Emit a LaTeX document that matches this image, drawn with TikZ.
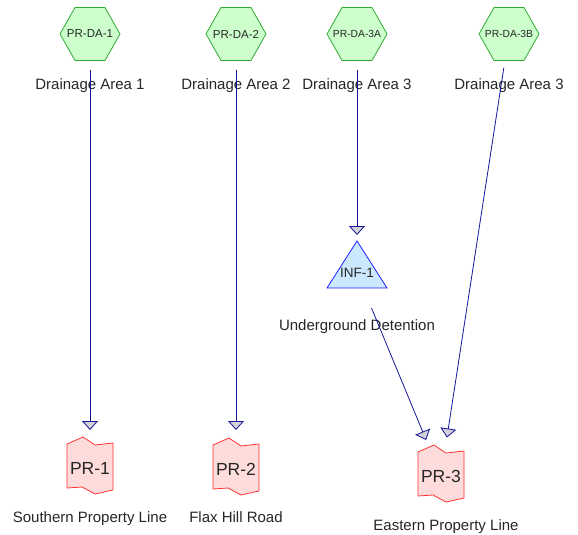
\documentclass[tikz,border=0pt]{standalone}
\usepackage{fontspec}
\setmainfont{Liberation Sans}
\usetikzlibrary{arrows.meta}
\definecolor{hexfill}{RGB}{204,255,204}
\definecolor{hexdraw}{RGB}{50,170,50}
\definecolor{trifill}{RGB}{204,232,255}
\definecolor{tridraw}{RGB}{30,30,255}
\definecolor{prfill}{RGB}{255,220,220}
\definecolor{prdraw}{RGB}{255,50,50}
\definecolor{linkcol}{RGB}{20,20,150}
\definecolor{tipfill}{RGB}{210,210,215}
\tikzset{
  hexshape/.style={draw=hexdraw, fill=hexfill, line width=0.8pt, line join=miter},
  hextext/.style={inner sep=0pt, text=black!85},
  lbl/.style={anchor=base, inner sep=0pt, font=\fontsize{15}{18}\selectfont, text=black!85},
  prtext/.style={inner sep=0pt, font=\fontsize{17.5}{20}\selectfont, text=black!85},
  prshape/.style={draw=prdraw, fill=prfill, line width=0.8pt, line join=miter},
  tri/.style={draw=tridraw, fill=trifill, line width=0.8pt, line join=miter},
  link/.style={draw=linkcol, line width=0.8pt,
    -{Triangle[length=9pt,width=16pt,fill=tipfill]}},
}
\newcommand{\hexpath}[1]{%
  \draw[hexshape, shift={#1}] (-30,0) -- (-15,-26.5) -- (15,-26.5) -- (30,0) -- (15,26.5) -- (-15,26.5) -- cycle;}
\newcommand{\prpath}[1]{%
  \draw[prshape, shift={#1}] (-23,-22) -- (-7,-29) -- (5,-21) -- (23,-23) -- (23,24) -- (5,28) -- (-8,21) -- (-23,22) -- cycle;}
\begin{document}
\begin{tikzpicture}[x=1pt,y=-1pt]
\useasboundingbox (0,0) rectangle (578,535);
% source hexagons
\hexpath{(90,34)}
\hexpath{(236,34)}
\hexpath{(357,34)}
\hexpath{(509,34)}
\node[hextext, font=\fontsize{11.5}{13}\selectfont] (DA1) at (90,34) {PR-DA-1};
\node[hextext, font=\fontsize{11.5}{13}\selectfont] (DA2) at (236,34) {PR-DA-2};
\node[hextext, font=\fontsize{10.3}{12}\selectfont] (DA3A) at (357,34) {PR-DA-3A};
\node[hextext, font=\fontsize{10.3}{12}\selectfont] (DA3B) at (509,34) {PR-DA-3B};
\node[lbl] (L1) at (90,89) {Drainage Area 1};
\node[lbl] (L2) at (236,89) {Drainage Area 2};
\node[lbl] (L3A) at (357,89) {Drainage Area 3};
\node[lbl] (L3B) at (509,89) {Drainage Area 3};
% infiltration triangle
\draw[tri] (357,241) -- (387,288) -- (327,288) -- cycle;
\node[inner sep=0pt, font=\fontsize{13.5}{16}\selectfont, text=black!85] (INF) at (357,273) {INF-1};
\node[lbl] (LINF) at (357,330) {Underground Detention};
% reach shapes
\prpath{(90,466)}
\prpath{(236,467)}
\prpath{(441,474)}
\node[prtext] (PR1) at (90,468) {PR-1};
\node[prtext] (PR2) at (236,469) {PR-2};
\node[prtext] (PR3) at (441,476) {PR-3};
\node[lbl] (LP1) at (90,522) {Southern Property Line};
\node[lbl] (LP2) at (236,522) {Flax Hill Road};
\node[lbl] (LP3) at (446,530) {Eastern Property Line};
% connectors
\draw[link, shorten <=36pt, shorten >=38pt] (DA1.center) -- (PR1.center);
\draw[link, shorten <=36pt, shorten >=39pt] (DA2.center) -- (PR2.center);
\draw[link, shorten <=36pt, shorten >=38pt] (DA3A.center) -- (INF.center);
\draw[link, shorten <=38pt, shorten >=39pt] (INF.center) -- (PR3.center);
\draw[link, shorten <=34pt, shorten >=39pt] (DA3B.center) -- (PR3.center);
\end{tikzpicture}
\end{document}
